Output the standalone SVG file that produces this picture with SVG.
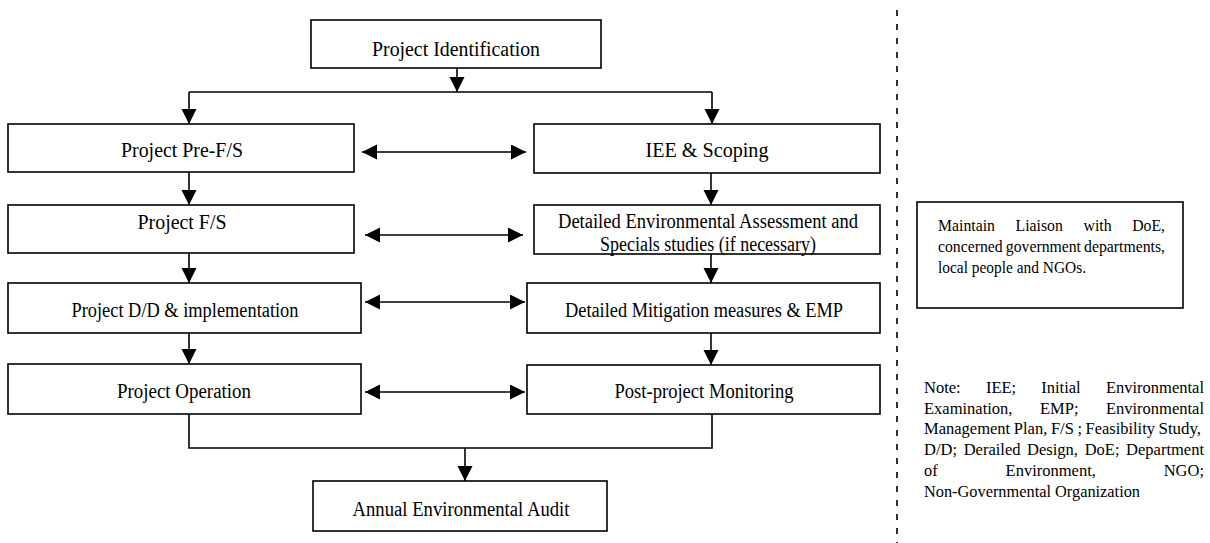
<svg xmlns="http://www.w3.org/2000/svg" width="1210" height="543" viewBox="0 0 1210 543">
  <style>
    .box { fill: #fff; stroke: #000; stroke-width: 1.6; }
    .lbl { font-family: "Liberation Serif", "Times New Roman", serif; font-size: 20px; fill: #000; text-anchor: middle; }
    .sm { font-family: "Liberation Serif", "Times New Roman", serif; font-size: 17.5px; fill: #000; }
    .ln { fill: none; stroke: #000; stroke-width: 1.6; }
    .arr { fill: none; stroke: #000; stroke-width: 1.6; marker-end: url(#head); }
    .dbl { fill: none; stroke: #000; stroke-width: 1.6; marker-start: url(#head); marker-end: url(#head); }
    .sep { fill: none; stroke: #000; stroke-width: 1.6; stroke-dasharray: 6 8; }
  </style>
  <defs>
    <marker id="head" markerUnits="userSpaceOnUse" markerWidth="16" markerHeight="16" refX="15" refY="7.5" orient="auto-start-reverse">
      <path d="M0,0 L15,7.5 L0,15 Z" fill="#000"/>
    </marker>
  </defs>
  <rect width="1210" height="543" fill="#fff"/>

  <!-- connectors -->
  <g id="connectors">
    <path class="arr" d="M457,68 V92"/>
    <path class="ln" d="M189,92 H712"/>
    <path class="arr" d="M189,92 V124"/>
    <path class="arr" d="M712,92 V124"/>
    <path class="dbl" d="M362,152 H526"/>
    <path class="arr" d="M189,172 V205"/>
    <path class="arr" d="M711,173 V205"/>
    <path class="dbl" d="M365,235 H523"/>
    <path class="arr" d="M189,253 V283"/>
    <path class="arr" d="M711,254 V283"/>
    <path class="dbl" d="M365,302 H525"/>
    <path class="arr" d="M189,333 V364"/>
    <path class="arr" d="M711,333 V365"/>
    <path class="dbl" d="M365,392 H525"/>
    <path class="ln" d="M189,414 V448 H712 V414"/>
    <path class="arr" d="M465,448 V481"/>
  </g>

  <g id="n-identification">
    <rect class="box" x="311" y="20" width="290" height="48"/>
    <text class="lbl" x="456" y="56" textLength="168" lengthAdjust="spacingAndGlyphs">Project Identification</text>
  </g>
  <g id="n-prefs">
    <rect class="box" x="8" y="124" width="346" height="48"/>
    <text class="lbl" x="182" y="157" textLength="122" lengthAdjust="spacingAndGlyphs">Project Pre-F/S</text>
  </g>
  <g id="n-iee">
    <rect class="box" x="534" y="124" width="346" height="49"/>
    <text class="lbl" x="707" y="157" textLength="123" lengthAdjust="spacingAndGlyphs">IEE &amp; Scoping</text>
  </g>
  <g id="n-fs">
    <rect class="box" x="8" y="205" width="346" height="48"/>
    <text class="lbl" x="182" y="229" textLength="89" lengthAdjust="spacingAndGlyphs">Project F/S</text>
  </g>
  <g id="n-dea">
    <rect class="box" x="534" y="205" width="346" height="49"/>
    <text class="lbl" x="708" y="228" textLength="300" lengthAdjust="spacingAndGlyphs">Detailed Environmental Assessment and</text>
    <text class="lbl" x="708" y="251" textLength="216" lengthAdjust="spacingAndGlyphs">Specials studies (if necessary)</text>
  </g>
  <g id="n-dd">
    <rect class="box" x="8" y="283" width="353" height="50"/>
    <text class="lbl" x="185" y="317" textLength="227" lengthAdjust="spacingAndGlyphs">Project D/D &amp; implementation</text>
  </g>
  <g id="n-mitigation">
    <rect class="box" x="527" y="283" width="353" height="50"/>
    <text class="lbl" x="704" y="317" textLength="278" lengthAdjust="spacingAndGlyphs">Detailed Mitigation measures &amp; EMP</text>
  </g>
  <g id="n-operation">
    <rect class="box" x="8" y="364" width="353" height="50"/>
    <text class="lbl" x="184" y="398" textLength="134" lengthAdjust="spacingAndGlyphs">Project Operation</text>
  </g>
  <g id="n-monitoring">
    <rect class="box" x="527" y="365" width="353" height="49"/>
    <text class="lbl" x="704" y="398" textLength="179" lengthAdjust="spacingAndGlyphs">Post-project Monitoring</text>
  </g>
  <g id="n-audit">
    <rect class="box" x="313" y="481" width="294" height="50"/>
    <text class="lbl" x="461" y="516" textLength="217" lengthAdjust="spacingAndGlyphs">Annual Environmental Audit</text>
  </g>

  <!-- dashed divider -->
  <path class="sep" d="M897,10 V543"/>

  <!-- liaison box: justified text, one text per word -->
  <g id="n-liaison">
    <rect class="box" x="917" y="202" width="266" height="106"/>
    <text class="sm" x="938" y="231" textLength="56.9" lengthAdjust="spacingAndGlyphs">Maintain</text>
    <text class="sm" x="1015.6" y="231" textLength="47.3" lengthAdjust="spacingAndGlyphs">Liaison</text>
    <text class="sm" x="1083.6" y="231" textLength="28" lengthAdjust="spacingAndGlyphs">with</text>
    <text class="sm" x="1132.2" y="231" textLength="32.8" lengthAdjust="spacingAndGlyphs">DoE,</text>
    <text class="sm" x="938" y="252" textLength="64.7" lengthAdjust="spacingAndGlyphs">concerned</text>
    <text class="sm" x="1005.8" y="252" textLength="75.2" lengthAdjust="spacingAndGlyphs">government</text>
    <text class="sm" x="1084.1" y="252" textLength="80.9" lengthAdjust="spacingAndGlyphs">departments,</text>
    <text class="sm" x="938" y="273" textLength="148" lengthAdjust="spacingAndGlyphs">local people and NGOs.</text>
  </g>

  <!-- abbreviation note: justified text, one text per word -->
  <g id="note">
    <text class="sm" x="924" y="393" textLength="36.7" lengthAdjust="spacingAndGlyphs">Note:</text>
    <text class="sm" x="985.9" y="393" textLength="30.2" lengthAdjust="spacingAndGlyphs">IEE;</text>
    <text class="sm" x="1041.3" y="393" textLength="39.4" lengthAdjust="spacingAndGlyphs">Initial</text>
    <text class="sm" x="1105.9" y="393" textLength="98.1" lengthAdjust="spacingAndGlyphs">Environmental</text>

    <text class="sm" x="924" y="413.7" textLength="88.5" lengthAdjust="spacingAndGlyphs">Examination,</text>
    <text class="sm" x="1040" y="413.7" textLength="38.5" lengthAdjust="spacingAndGlyphs">EMP;</text>
    <text class="sm" x="1105.9" y="413.7" textLength="98.1" lengthAdjust="spacingAndGlyphs">Environmental</text>

    <text class="sm" x="924" y="434.4" textLength="86.2" lengthAdjust="spacingAndGlyphs">Management</text>
    <text class="sm" x="1013.8" y="434.4" textLength="33.5" lengthAdjust="spacingAndGlyphs">Plan,</text>
    <text class="sm" x="1050.9" y="434.4" textLength="22.9" lengthAdjust="spacingAndGlyphs">F/S</text>
    <text class="sm" x="1077.4" y="434.4" textLength="4.6" lengthAdjust="spacingAndGlyphs">;</text>
    <text class="sm" x="1085.6" y="434.4" textLength="69.3" lengthAdjust="spacingAndGlyphs">Feasibility</text>
    <text class="sm" x="1158.5" y="434.4" textLength="42.6" lengthAdjust="spacingAndGlyphs">Study,</text>

    <text class="sm" x="924" y="455.1" textLength="33" lengthAdjust="spacingAndGlyphs">D/D;</text>
    <text class="sm" x="963.7" y="455.1" textLength="56.8" lengthAdjust="spacingAndGlyphs">Derailed</text>
    <text class="sm" x="1027.1" y="455.1" textLength="50.9" lengthAdjust="spacingAndGlyphs">Design,</text>
    <text class="sm" x="1084.7" y="455.1" textLength="34.8" lengthAdjust="spacingAndGlyphs">DoE;</text>
    <text class="sm" x="1126.1" y="455.1" textLength="77.9" lengthAdjust="spacingAndGlyphs">Department</text>

    <text class="sm" x="924" y="475.8" textLength="13.7" lengthAdjust="spacingAndGlyphs">of</text>
    <text class="sm" x="1005.6" y="475.8" textLength="90.3" lengthAdjust="spacingAndGlyphs">Environment,</text>
    <text class="sm" x="1163.7" y="475.8" textLength="40.3" lengthAdjust="spacingAndGlyphs">NGO;</text>

    <text class="sm" x="924" y="496.5" textLength="216" lengthAdjust="spacingAndGlyphs">Non-Governmental Organization</text>
  </g>
</svg>
